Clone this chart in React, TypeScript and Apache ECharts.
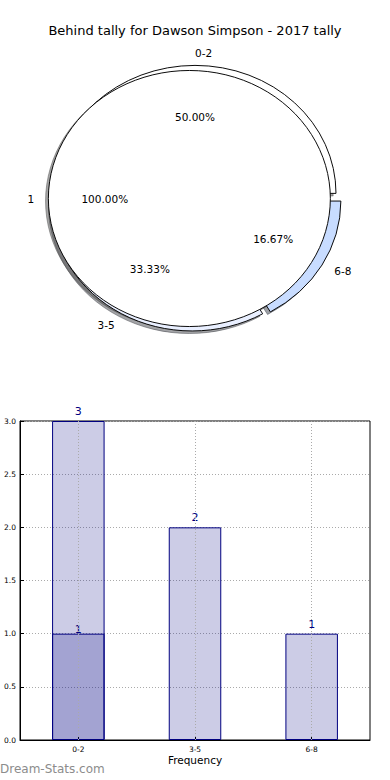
import React, { useEffect, useRef } from "react";
import * as echarts from "echarts";

const titleText = "Behind tally for Dawson Simpson - 2017 tally";

// Outer ring of the pie
const ringLabels = ["0-2", "3-5", "6-8"];
const ringValues = [3, 2, 1];
const ringColors = ["#ffffff", "#e9efff", "#c8dcff"];

// Inner pie
const innerLabels = ["1"];
const innerValues = [1];
const innerColors = ["#ffffff"];

// Bar chart
const barCategories = ["0-2", "3-5", "6-8"];
const barTotals = [3, 2, 1];
const barInner: (number | string)[] = [1, "-", "-"];
const yMin = 0;
const yMax = 3;
const yStep = 0.5;
const xAxisName = "Frequency";
const watermark = "Dream-Stats.com";

// Layout constants (pie drawn like matplotlib with non-equal aspect)
const CX = 195;
const CY = 198.5;
const RX = 141;
const RY = 128;
const EXPLODE = 0.04;
const SHADOW_DX = -0.02 * RX;
const SHADOW_DY = 0.02 * RY;
const FONT = '"DejaVu Sans", "Liberation Sans", sans-serif';

function wedges(values: number[]) {
  const total = values.reduce((a, b) => a + b, 0);
  let acc = 0;
  return values.map((v) => {
    const s = acc / total;
    acc += v;
    return [s, acc / total, v / total];
  });
}

function geom(s: number, e: number) {
  const a1 = s * Math.PI * 2;
  const a2 = e * Math.PI * 2;
  const mid = (a1 + a2) / 2;
  const cx = CX + EXPLODE * Math.cos(mid) * RX;
  const cy = CY - EXPLODE * Math.sin(mid) * RY;
  return { a1, a2, mid, cx, cy };
}

function sectorEl(s: number, e: number, dx: number, dy: number, style: any) {
  const g = geom(s, e);
  return {
    type: "sector",
    x: g.cx + dx,
    y: g.cy + dy,
    scaleY: RY / RX,
    shape: {
      cx: 0,
      cy: 0,
      r: RX,
      r0: 0,
      startAngle: -g.a1,
      endAngle: -g.a2,
      clockwise: false,
    },
    style: { ...style, strokeNoScale: true },
  };
}

function shade(hex: string) {
  const n = parseInt(hex.slice(1), 16);
  const r = Math.round(((n >> 16) & 255) * 0.3);
  const g = Math.round(((n >> 8) & 255) * 0.3);
  const b = Math.round((n & 255) * 0.3);
  return `rgba(${r},${g},${b},0.5)`;
}

function labelEls(s: number, e: number, name: string, frac: number) {
  const g = geom(s, e);
  const c = Math.cos(g.mid);
  const sn = Math.sin(g.mid);
  const lx = g.cx + 1.1 * c * RX;
  const ly = g.cy - 1.1 * sn * RY;
  const px = g.cx + 0.6 * c * RX;
  const py = g.cy - 0.6 * sn * RY;
  return {
    type: "group",
    children: [
      {
        type: "text",
        x: lx,
        y: ly,
        style: {
          text: name,
          fill: "#000",
          fontSize: 10.5,
          fontFamily: FONT,
          align: c < -1e-9 ? "right" : "left",
          verticalAlign: "middle",
        },
      },
      {
        type: "text",
        x: px,
        y: py,
        style: {
          text: (frac * 100).toFixed(2) + "%",
          fill: "#000",
          fontSize: 10.5,
          fontFamily: FONT,
          align: "center",
          verticalAlign: "middle",
        },
      },
    ],
  };
}

export default function App() {
  const ref = useRef<HTMLDivElement>(null);

  useEffect(() => {
    if (!ref.current) return;
    const chart = echarts.init(ref.current, undefined, { renderer: "svg" });

    const ringW = wedges(ringValues);
    const innerW = wedges(innerValues);

    const shadowData = [
      ...ringW.map((w, i) => ({ value: [w[0], w[1]], col: shade(ringColors[i]) })),
      ...innerW.map((w, i) => ({ value: [w[0], w[1]], col: shade(innerColors[i]) })),
    ];

    const option: any = {
      animation: false,
      backgroundColor: "#ffffff",
      title: {
        text: titleText,
        left: "center",
        top: 19,
        textStyle: { fontSize: 13, fontWeight: "normal", color: "#000", fontFamily: FONT },
      },
      grid: { left: 20, right: 20, top: 421, bottom: 40, show: true, borderColor: "#000", borderWidth: 1, backgroundColor: "transparent" },
      xAxis: {
        type: "category",
        data: barCategories,
        axisLine: { show: true, lineStyle: { color: "#000" } },
        axisTick: { show: true, inside: true, alignWithLabel: true, length: 4, lineStyle: { color: "#000" } },
        axisLabel: { fontSize: 7.5, color: "#000", margin: 5, fontFamily: FONT },
        splitLine: { show: false },
        name: xAxisName,
        nameLocation: "middle",
        nameGap: 14,
        nameTextStyle: { fontSize: 10.5, color: "#000", fontFamily: FONT },
      },
      yAxis: {
        type: "value",
        min: yMin,
        max: yMax,
        interval: yStep,
        axisLine: { show: true, lineStyle: { color: "#000" } },
        axisTick: { show: true, inside: true, length: 4, lineStyle: { color: "#000" } },
        axisLabel: { fontSize: 7.5, color: "#000", margin: 4, fontFamily: FONT, formatter: (v: number) => v.toFixed(1) },
        splitLine: { show: true, lineStyle: { color: "#aaaaaa", type: [1, 2], width: 1 } },
      },
      series: [
        {
          type: "custom",
          coordinateSystem: "none",
          silent: true,
          z: 1,
          data: shadowData,
          renderItem: (params: any, api: any) => {
            const d = shadowData[params.dataIndex];
            return sectorEl(api.value(0), api.value(1), SHADOW_DX, SHADOW_DY, {
              fill: d.col,
              stroke: d.col,
              lineWidth: 1,
            });
          },
        },
        {
          type: "custom",
          coordinateSystem: "none",
          silent: true,
          z: 2,
          data: ringW.map((w) => [w[0], w[1]]),
          renderItem: (params: any, api: any) =>
            sectorEl(api.value(0), api.value(1), 0, 0, {
              fill: ringColors[params.dataIndex],
              stroke: "#000",
              lineWidth: 1,
            }),
        },
        {
          type: "custom",
          coordinateSystem: "none",
          silent: true,
          z: 3,
          data: innerW.map((w) => [w[0], w[1]]),
          renderItem: (params: any, api: any) =>
            sectorEl(api.value(0), api.value(1), 0, 0, {
              fill: innerColors[params.dataIndex],
              stroke: "#000",
              lineWidth: 1,
            }),
        },
        {
          type: "custom",
          coordinateSystem: "none",
          silent: true,
          z: 4,
          data: ringW.map((w) => [w[0], w[1], w[2]]),
          renderItem: (params: any, api: any) =>
            labelEls(api.value(0), api.value(1), ringLabels[params.dataIndex], api.value(2)),
        },
        {
          type: "custom",
          coordinateSystem: "none",
          silent: true,
          z: 4,
          data: innerW.map((w) => [w[0], w[1], w[2]]),
          renderItem: (params: any, api: any) =>
            labelEls(api.value(0), api.value(1), innerLabels[params.dataIndex], api.value(2)),
        },
        {
          type: "bar",
          data: barTotals,
          barWidth: "45%",
          barGap: "-100%",
          silent: true,
          itemStyle: { color: "rgba(0,0,128,0.2)", borderColor: "#000080", borderWidth: 1 },
          label: { show: true, position: "top", distance: 4, color: "#000080", fontSize: 11, fontFamily: FONT },
          markLine: {
            silent: true,
            symbol: "none",
            label: { show: false },
            lineStyle: { color: "#aaaaaa", type: [1, 2], width: 1 },
            data: barCategories.map((c) => ({ xAxis: c })),
          },
        },
        {
          type: "bar",
          data: barInner,
          barWidth: "45%",
          barGap: "-100%",
          silent: true,
          itemStyle: { color: "rgba(0,0,128,0.2)", borderColor: "#000080", borderWidth: 1 },
          label: { show: true, position: "top", distance: -1, color: "#000080", fontSize: 11, fontFamily: FONT },
        },
      ],
      graphic: [
        {
          type: "text",
          left: 0,
          top: 763,
          style: { text: watermark, fill: "#8c8c8c", fontSize: 12, fontFamily: FONT },
        },
      ],
    };

    chart.setOption(option);
    return () => chart.dispose();
  }, []);

  return (
    <div
      ref={ref}
      style={{ position: "absolute", left: 0, top: 0, width: 390, height: 780 }}
    />
  );
}
